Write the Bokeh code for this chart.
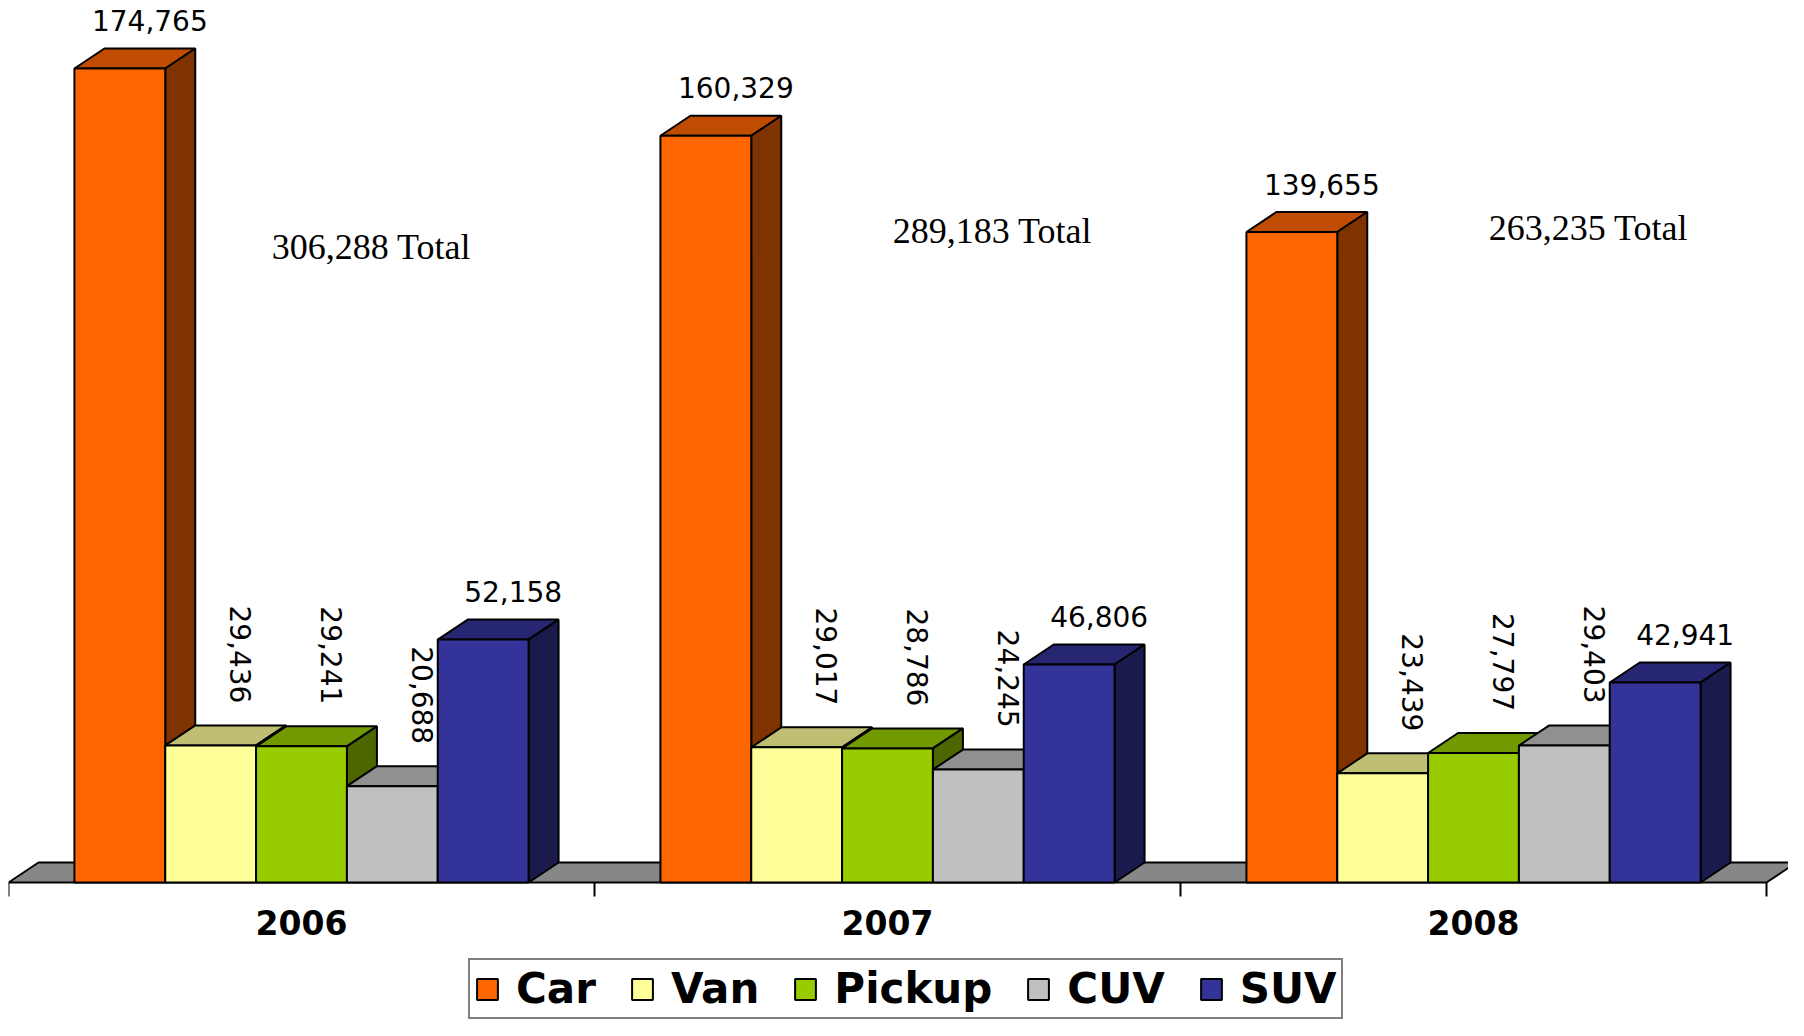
import math
from bokeh.plotting import figure
from bokeh.models import ColumnDataSource, Legend, LegendItem, Range1d
from bokeh.core.properties import value
from bokeh.embed import file_html
from bokeh.resources import INLINE

# ---------------- data ----------------
years = ["2006", "2007", "2008"]
series = ["Car", "Van", "Pickup", "CUV", "SUV"]
car = [174765, 160329, 139655]
van = [29436, 29017, 23439]
pickup = [29241, 28786, 27797]
cuv = [20688, 24245, 29403]
suv = [52158, 46806, 42941]
totals = [306288, 289183, 263235]

# ---------------- styles ----------------
front_colors = ["#FF6600", "#FFFF99", "#99CC00", "#C0C0C0", "#333399"]
top_colors = ["#BF4C00", "#BFBF73", "#739900", "#909090", "#262673"]
side_colors = ["#7F3300", "#80804D", "#4D6600", "#606060", "#1A1A4D"]
rotated = [False, True, True, True, False]
floor_color = "#878787"

FRAME_W = 1780
FRAME_H = 1020
BASE_PX = 882                    # baseline distance from top of frame
DX_PX = 30
DY_PX = 20
UPX = 214.7                      # data units per pixel (y)
CW = 586.0                       # pixels per category
Y_END = BASE_PX * UPX
Y_START = -(FRAME_H - BASE_PX) * UPX
X_END = FRAME_W / CW
dx = DX_PX / CW
dy = DY_PX * UPX
bw = 0.155
gm = (1 - 5 * bw) / 2

total_label_dx_px = [70, 105, 115]
total_label_up_px = [636, 652, 655]

values = [car, van, pickup, cuv, suv]

p = figure(frame_width=FRAME_W, frame_height=FRAME_H,
           x_range=Range1d(0, X_END), y_range=Range1d(Y_START, Y_END),
           output_backend="svg", toolbar_location=None,
           min_border_left=8, min_border_right=0, min_border_top=0, min_border_bottom=0,
           x_axis_location=None, y_axis_location=None)
p.grid.visible = False
p.outline_line_color = None
p.background_fill_color = "white"
p.border_fill_color = "white"

# floor
p.patch(x=[0, 3, 3 + dx, dx], y=[0, 0, dy, dy], fill_color=floor_color,
        line_color="black", line_width=2)

# category tick marks at category boundaries
bounds = list(range(len(years) + 1))
p.segment(x0=bounds, x1=bounds, y0=[0] * len(bounds), y1=[-14 * UPX] * len(bounds),
          line_color="black", line_width=2)

# tops and sides
xs, ys, fc = [], [], []
for i in range(len(years)):
    for j in range(len(series)):
        left = i + gm + j * bw
        right = left + bw
        h = values[j][i]
        xs.append([left, right, right + dx, left + dx])
        ys.append([h, h, h + dy, h + dy])
        fc.append(top_colors[j])
        xs.append([right, right + dx, right + dx, right])
        ys.append([0, dy, h + dy, h])
        fc.append(side_colors[j])
p.patches(xs="xs", ys="ys", fill_color="fc", line_color="black", line_width=2,
          source=ColumnDataSource(dict(xs=xs, ys=ys, fc=fc)))

# fronts
items = []
for j, name in enumerate(series):
    lefts = [i + gm + j * bw for i in range(len(years))]
    rights = [l + bw for l in lefts]
    r = p.quad(left=lefts, right=rights, bottom=[0] * len(years), top=values[j],
               fill_color=front_colors[j], line_color="black", line_width=2)
    items.append(LegendItem(label=name, renderers=[r]))

# value labels
hx, hy, ht, rx, ry, rt = [], [], [], [], [], []
for j in range(len(series)):
    for i in range(len(years)):
        cx = i + gm + j * bw + bw / 2 + dx
        h = values[j][i]
        txt = f"{h:,}"
        if rotated[j]:
            rx.append(cx); ry.append(h + dy + 22 * UPX); rt.append(txt)
        else:
            hx.append(cx); hy.append(h + dy + 28 * UPX); ht.append(txt)
p.text(x=hx, y=hy, text=ht, text_align="center", text_baseline="middle",
       text_font=value("DejaVu Sans"), text_font_size="28px", text_color="black")
p.text(x=rx, y=ry, text=rt, angle=-math.pi / 2, text_align="right", text_baseline="middle",
       text_font=value("DejaVu Sans"), text_font_size="28px", text_color="black")

# total labels
tx = [i + 0.5 + total_label_dx_px[i] / CW for i in range(len(years))]
ty = [total_label_up_px[i] * UPX for i in range(len(years))]
tt = [f"{t:,} Total" for t in totals]
p.text(x=tx, y=ty, text=tt, text_align="center", text_baseline="middle",
       text_font=value("Liberation Serif"), text_font_size="36px", text_color="black")

# category labels
p.text(x=[i + 0.5 for i in range(len(years))], y=[-40 * UPX] * len(years), text=years,
       text_align="center", text_baseline="middle",
       text_font=value("DejaVu Sans"), text_font_style="bold",
       text_font_size="33px", text_color="black")

legend = Legend(items=items, orientation="horizontal", location=(460, 1),
                label_text_font="DejaVu Sans", label_text_font_style="bold",
                label_text_font_size="42px", label_text_color="black",
                glyph_width=26, glyph_height=26, label_standoff=16, spacing=33,
                padding=4, margin=0, border_line_color="black", border_line_width=2,
                background_fill_color="white", background_fill_alpha=1.0)
p.add_layout(legend, "center")

open("out.html", "w").write(file_html(p, INLINE))
